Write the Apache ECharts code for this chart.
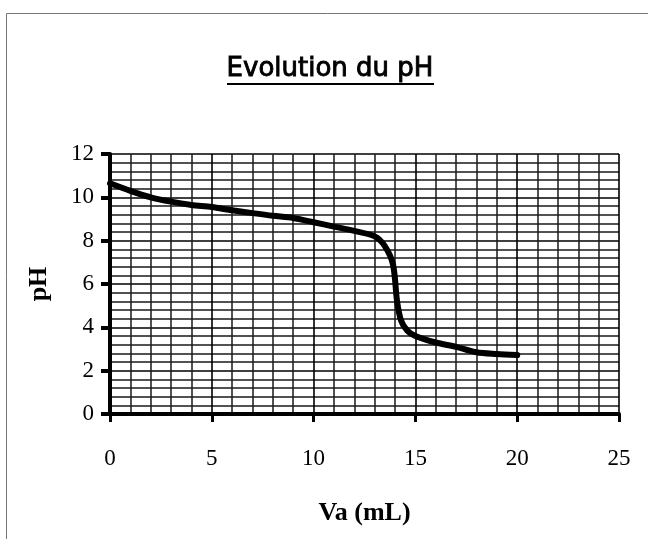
<!DOCTYPE html>
<html>
<head>
<meta charset="utf-8">
<script src="https://cdn.jsdelivr.net/npm/echarts@6/dist/echarts.min.js"></script>
<style>html,body{margin:0;padding:0;background:#fff;}#c{width:648px;height:539px;}</style>
</head>
<body>
<div id="c"></div>
<script>
var titleText = 'Evolution du pH';
var xName = 'Va (mL)';
var yName = 'pH';
var vaValues = [0, 1, 2, 3, 4, 5, 6, 7, 8, 9, 10, 11, 12, 13, 13.5, 13.9, 14.1, 14.3, 14.6, 15, 16, 17, 18, 19, 20];
var phValues = [10.65, 10.3, 10.0, 9.8, 9.65, 9.55, 9.4, 9.27, 9.15, 9.05, 8.85, 8.65, 8.45, 8.2, 7.75, 6.9, 5.2, 4.3, 3.85, 3.6, 3.3, 3.1, 2.85, 2.77, 2.72];

var data = vaValues.map(function (v, i) { return [v, phValues[i]]; });
var chart = echarts.init(document.getElementById('c'));
chart.setOption({
  animation: false,
  backgroundColor: '#fff',
  graphic: [
    { type: 'rect', shape: { x: 6.5, y: 13.5, width: 700, height: 600 }, style: { fill: 'none', stroke: '#777', lineWidth: 1 }, z: 0 },
    { type: 'text', x: 330, y: 69, style: { text: titleText, font: '26px "DejaVu Sans"', fill: '#000', stroke: '#000', lineWidth: 0.9, align: 'center', verticalAlign: 'middle' }, z: 10 },
    { type: 'line', shape: { x1: 227, y1: 84, x2: 434, y2: 84 }, style: { stroke: '#000', lineWidth: 2 }, z: 10 }
  ],
  grid: { left: 110, right: 29, top: 154, bottom: 125, show: false },
  xAxis: {
    type: 'value', min: 0, max: 25, interval: 5,
    name: xName, nameLocation: 'middle', nameGap: 86,
    nameTextStyle: { fontFamily: 'Liberation Serif', fontWeight: 'bold', fontSize: 26, color: '#000' },
    axisLine: { show: true, lineStyle: { color: '#000', width: 4 } },
    axisTick: { show: true, inside: false, length: 8, lineStyle: { color: '#000', width: 3 } },
    axisLabel: { margin: 33, fontFamily: 'Liberation Serif', fontSize: 23, color: '#000' },
    splitLine: { show: true, lineStyle: { color: '#000', width: 1.6 } },
    minorTick: { show: false, splitNumber: 5 },
    minorSplitLine: { show: true, lineStyle: { color: '#1a1a1a', width: 1.5 } }
  },
  yAxis: {
    type: 'value', min: 0, max: 12, interval: 2,
    name: yName, nameLocation: 'middle', nameGap: 58, nameRotate: 90,
    nameTextStyle: { fontFamily: 'Liberation Serif', fontWeight: 'bold', fontSize: 26, color: '#000' },
    axisLine: { show: true, lineStyle: { color: '#000', width: 4 } },
    axisTick: { show: true, inside: false, length: 9, lineStyle: { color: '#000', width: 4 } },
    axisLabel: { margin: 16, fontFamily: 'Liberation Serif', fontSize: 23, color: '#000' },
    splitLine: { show: true, lineStyle: { color: '#000', width: 1.6 } },
    minorTick: { show: false, splitNumber: 5 },
    minorSplitLine: { show: true, lineStyle: { color: '#1a1a1a', width: 1.5 } }
  },
  series: [{
    type: 'line', data: data, smooth: 0.3, symbol: 'none',
    lineStyle: { color: '#000', width: 6, cap: 'round', join: 'round' }, z: 5
  }]
});
</script>
</body>
</html>
